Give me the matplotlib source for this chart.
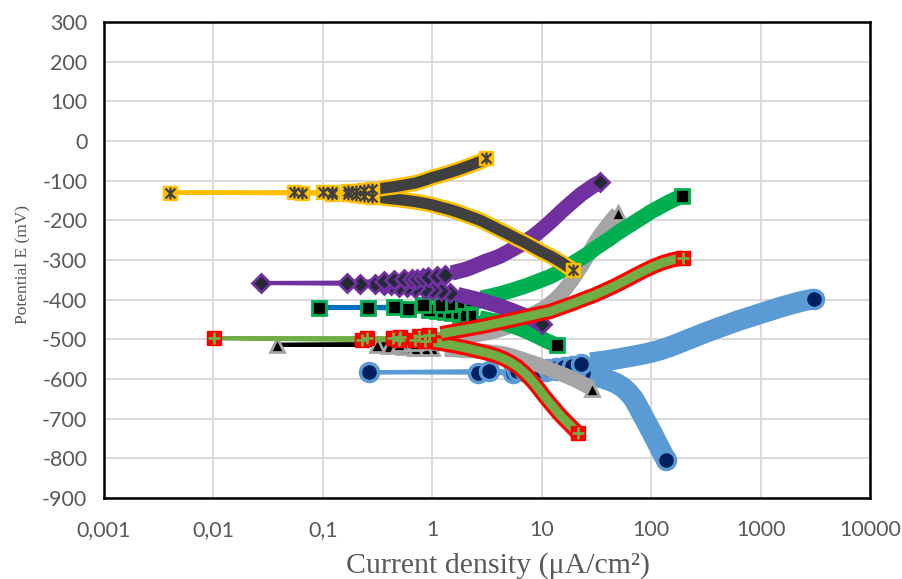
"""Potentiodynamic polarisation (Tafel) curves for six samples"""
import matplotlib
matplotlib.use("Agg")
import matplotlib.pyplot as plt
from matplotlib.path import Path
from matplotlib.ticker import NullLocator

# current density (uA/cm2) and potential (mV)
# each list runs from the cathodic end, through Ecorr, to the anodic end
circ_i = [138, 130, 122, 114, 106, 98, 90, 83, 76, 69, 62, 55, 48, 41, 35, 29, 24, 20, 16.5, 13.5,
          11, 9, 7.5, 5.5, 2.64, 0.262,
          3.33, 5.9, 7, 8.3, 9.8, 11.5, 13.5, 16, 19, 23, 28, 34, 41, 50, 60, 72, 86, 103, 123, 147,
          175, 210, 250, 300, 360, 430, 520, 620, 750, 900, 1080, 1300, 1560, 1870, 2240, 2700, 3080]
circ_e = [-804, -793, -778, -762, -745, -727, -708, -690, -670, -650, -634, -621, -611, -603, -597,
          -591, -586, -582, -578, -577, -580, -583, -584, -586, -584, -583,
          -580, -581, -580, -579, -577, -575, -572, -569, -566, -562, -559, -556, -553, -549, -545,
          -541, -537, -532, -526, -519, -511, -502, -494, -485, -477, -469, -461, -453, -446, -439,
          -432, -425, -418, -412, -406, -401, -398]

tri_i = [28.6, 25, 22, 19.5, 17, 14.7, 12.7, 11, 9.5, 8.4, 7.2, 6.2, 5.3, 4.5, 3.8, 3.1, 2.5, 2.0,
         1.6, 1.3, 1.0, 0.85, 0.7, 0.55, 0.4, 0.313, 0.0383,
         0.5, 0.7, 0.9, 1.1, 1.4, 1.8, 2.3, 2.9, 3.6, 4.4, 5.3, 6.3, 7.4, 8.6, 10, 11.5, 13, 14.7,
         16.5, 18.5, 20.5, 23, 25.5, 28.5, 31.5, 35, 39, 43.5, 49.6]
tri_e = [-624, -615, -607, -600, -593, -586, -579, -572, -565, -560, -554, -548, -542, -537, -534,
         -531, -529, -528, -526, -525, -523, -522, -521, -520, -518, -514, -514,
         -512, -510, -507, -504, -500, -495, -490, -485, -480, -473, -465, -456, -445, -434, -425,
         -414, -402, -388, -372, -354, -336, -315, -294, -272, -252, -234, -217, -200, -182]

sq_i = [13.7, 12.5, 11.3, 10.2, 9.2, 8.3, 7.4, 6.6, 5.8, 5.1, 4.4, 3.8, 3.2, 2.7, 2.2, 1.8, 1.5,
        1.3, 1.1, 0.93, 0.6, 0.259, 0.093,
        0.45, 0.82, 1.2, 1.56, 1.9, 2.3, 2.8, 3.4, 4.17, 5, 6, 7.2, 8.4, 10, 11.9, 14, 16.5, 19.5,
        23, 27, 31, 36, 42, 48, 56, 65, 75, 87, 100, 115, 132, 150, 170, 190]
sq_e = [-515, -510, -505, -499, -493, -487, -481, -475, -469, -464, -458, -454, -450, -446, -442,
        -438, -434, -431, -428, -425, -424, -420, -420,
        -418, -413, -413, -411, -406, -401, -396, -391, -385, -379, -372, -365, -358, -350, -342,
        -332, -320, -307, -295, -283, -270, -258, -246, -234, -222, -211, -200, -189, -178, -169,
        -160, -152, -145, -139]

dia_i = [10, 9, 8, 7, 6, 5.2, 4.5, 3.9, 3.3, 2.8, 2.4, 2.0, 1.7, 1.45, 1.2, 1.0, 0.85, 0.7, 0.59,
         0.5, 0.42, 0.36, 0.3, 0.22, 0.0274,
         0.167, 0.36, 0.45, 0.548, 0.65, 0.725, 0.82, 0.92, 1.1, 1.3, 1.5, 1.75, 2.0, 2.3, 2.7, 3.1,
         3.6, 4.17, 4.8, 5.5, 6.3, 7.2, 8.4, 9.5, 10.8, 12.2, 13.8, 15.5, 17.5, 20, 23, 26.5, 30, 34]
dia_e = [-462, -455, -447, -440, -433, -426, -420, -414, -408, -402, -397, -392, -387, -383, -379,
         -375, -372, -370, -369, -367, -364, -362, -361, -360, -358,
         -357, -352, -351, -349, -348, -347, -345, -344, -340, -337, -333, -328, -324, -318, -310,
         -303, -297, -290, -281, -272, -263, -252, -240, -228, -215, -202, -188, -175, -162, -148,
         -134, -122, -112, -104]

plus_i = [21.5, 19.5, 17.5, 15.8, 14.2, 12.8, 11.5, 10.4, 9.4, 8.5, 7.6, 6.8, 6, 5.2, 4.5, 3.9,
          3.3, 2.7, 2.2, 1.8, 1.46, 1.2, 1.0, 0.85, 0.7, 0.5, 0.228, 0.0101,
          0.254, 0.44, 0.51, 0.75, 0.93, 1.2, 1.5, 1.9, 2.4, 3, 3.8, 4.8, 6, 7.5, 9.4, 11.9, 15, 19,
          24, 30, 37, 46, 57, 70, 85, 105, 130, 160, 195]
plus_e = [-737, -725, -712, -700, -686, -671, -656, -641, -625, -610, -595, -582, -569, -558, -549,
          -542, -536, -530, -524, -519, -514, -510, -507, -505, -502, -501, -502, -497,
          -497, -497, -493, -492, -490, -486, -481, -476, -471, -466, -460, -454, -448, -442, -436,
          -430, -420, -410, -399, -389, -378, -366, -353, -340, -328, -316, -306, -299, -295]

star_i = [19.5, 17.5, 15.5, 13.7, 12.2, 11, 9.8, 8.7, 7.7, 6.8, 6, 5.3, 4.7, 4.1, 3.6, 3.2, 2.8,
          2.4, 2.0, 1.7, 1.45, 1.2, 1.0, 0.85, 0.7, 0.58, 0.48, 0.4, 0.33, 0.28, 0.24, 0.2, 0.17,
          0.12, 0.065, 0.004,
          0.055, 0.1, 0.12, 0.17, 0.2, 0.24, 0.28, 0.33, 0.4, 0.48, 0.58, 0.7, 0.85, 1.0, 1.2, 1.45,
          1.7, 2.0, 2.4, 2.8, 3.1]
star_e = [-326, -318, -308, -299, -291, -285, -278, -270, -262, -254, -247, -239, -232, -224, -216,
          -209, -201, -194, -186, -179, -173, -167, -161, -157, -153, -150, -147, -145, -142, -140,
          -138, -136, -134, -133, -132, -130,
          -129, -129, -128, -127, -126, -124, -122, -120, -117, -114, -110, -106, -99, -92, -86,
          -79, -73, -66, -58, -51, -44]

x_ticks = [0.001, 0.01, 0.1, 1, 10, 100, 1000, 10000]
x_labels = ["0,001", "0,01", "0,1", "1", "10", "100", "1000", "10000"]
y_ticks = list(range(-900, 301, 100))

TXT = "#595959"
TICK_FONT = "Lato"

# excel style asterisk (x plus vertical bar)
ASTERISK = Path([(-1, -1), (1, 1), (-1, 1), (1, -1), (0, -1.2), (0, 1.2)],
                [Path.MOVETO, Path.LINETO, Path.MOVETO, Path.LINETO, Path.MOVETO, Path.LINETO])


def draw(ax, x, y, line, z, band, layers, dense_from):
    """Excel look: thin line, packed markers shown as a solid band, loose markers near Ecorr"""
    ax.plot(x, y, color=line, lw=3.0, zorder=z)
    imin = x.index(min(x))
    # the markers are so tightly packed past dense_from that they merge into a band
    for idx in (range(0, imin), range(imin + 1, len(x))):
        keep = [i for i in idx if x[i] >= dense_from]
        for color, lw in band:
            ax.plot([x[i] for i in keep], [y[i] for i in keep], color=color, lw=lw,
                    solid_capstyle="butt", solid_joinstyle="round", zorder=z + 0.05)
    loose = [i for i in range(len(x)) if x[i] < dense_from or i in (0, len(x) - 1)]
    for k, mk in enumerate(layers):
        ax.plot([x[i] for i in loose], [y[i] for i in loose], linestyle="none",
                zorder=z + 0.1 * (k + 1), **mk)


fig = plt.figure(figsize=(9.03, 5.79), dpi=100)
ax = fig.add_axes([0.1152, 0.1399, 0.8483, 0.8221])

draw(ax, circ_i, circ_e, "#5B9BD5", 3, [("#5B9BD5", 15)],
     [dict(marker="o", ms=13, mfc="#002060", mec="#5B9BD5", mew=2.5)], 25)
draw(ax, tri_i, tri_e, "#000000", 4, [("#A5A5A5", 11)],
     [dict(marker="^", ms=10.5, mfc="#000000", mec="#A5A5A5", mew=2)], 1.2)
draw(ax, sq_i, sq_e, "#0070C0", 5, [("#00B050", 11)],
     [dict(marker="s", ms=9.5, mfc="#000000", mec="#00B050", mew=2)], 2.5)
draw(ax, dia_i, dia_e, "#7030A0", 6, [("#7030A0", 11)],
     [dict(marker="D", ms=9.5, mfc="#222A35", mec="#7030A0", mew=2)], 1.5)
draw(ax, plus_i, plus_e, "#70AD47", 7, [("#FF0000", 11), ("#70AD47", 6.5)],
     [dict(marker="s", ms=10, mfc="#FF0000", mec="#FF0000", mew=1),
      dict(marker="+", ms=8.5, mec="#70AD47", mew=2)], 1.0)
draw(ax, star_i, star_e, "#FFC000", 8, [("#FFC000", 11.5), ("#404040", 8)],
     [dict(marker="s", ms=10, mfc="#FFC000", mec="#FFC000", mew=1),
      dict(marker=ASTERISK, ms=8.5, mfc="none", mec="#404040", mew=1.6)], 0.3)

ax.set_xscale("log")
ax.set_xlim(0.001, 10000)
ax.set_ylim(-900, 300)
ax.set_xticks(x_ticks)
ax.set_xticklabels(x_labels)
ax.xaxis.set_minor_locator(NullLocator())
ax.set_yticks(y_ticks)
ax.set_yticklabels([str(v) for v in y_ticks])
ax.grid(True, color="#D9D9D9", linewidth=1.4)
ax.set_axisbelow(True)
ax.tick_params(length=0, labelsize=15.5, labelcolor=TXT)
ax.tick_params(axis="x", pad=16)
ax.tick_params(axis="y", pad=12)
for lab in ax.get_xticklabels() + ax.get_yticklabels():
    lab.set_family(TICK_FONT)
for sp in ax.spines.values():
    sp.set_linewidth(1.8)
    sp.set_color("black")

fig.text(0.551, 1 - 566 / 579, "Current density (\u03bcA/cm\u00b2)", ha="center", va="center",
         fontsize=21.5, family="Liberation Serif", color=TXT)
fig.text(0.025, 1 - 265 / 579, "Potential E (mV)", ha="center", va="center", rotation=90,
         fontsize=12.5, family="Liberation Serif", color=TXT)

fig.savefig("out.png", dpi=100)
